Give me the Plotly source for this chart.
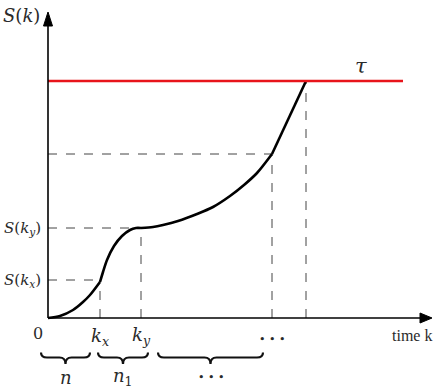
import plotly.graph_objects as go

# ---- data (arbitrary units) ----
# key instants on the time axis
k_marks = [5.2, 9.3, 22.4, 25.8]          # k_x, k_y, k_3, k_4
s_marks = [3.8, 9.0, 16.4, 23.7]          # S at those instants
tau = 23.7
tau_end = 35.5

# curve segments S(k)
seg1_k = [0.0, 1.2, 2.5, 3.5, 4.2, 5.2]
seg1_s = [0.0, 0.2, 0.8, 1.6, 2.3, 3.6]
seg2_k = [5.2, 5.5, 5.9, 6.6, 7.4, 8.2, 8.8, 9.3]
seg2_s = [3.6, 4.6, 5.8, 7.2, 8.2, 8.8, 9.0, 9.0]
seg3_k = [9.3, 10.5, 11.5, 13.0, 14.9, 16.5, 18.2, 19.6, 20.9, 22.4]
seg3_s = [9.0, 9.1, 9.3, 9.7, 10.4, 11.1, 12.2, 13.3, 14.5, 16.4]
seg4_k = [22.4, 25.8]
seg4_s = [16.4, 23.7]

# braces under the time axis
brace_start = [-0.7, 5.0, 11.0]
brace_end = [4.2, 10.0, 21.5]
brace_labels = ["<i>n</i>", "<i>n</i><sub>1</sub>", "• • •"]

x_axis_end = 38.4
y_axis_end = 30.6

MATH = "DejaVu Serif"
TXT = "#2a2a2a"

fig = go.Figure()

# curve
for ks, ss in [(seg1_k, seg1_s), (seg2_k, seg2_s), (seg3_k, seg3_s), (seg4_k, seg4_s)]:
    fig.add_trace(go.Scatter(x=ks, y=ss, mode="lines",
                             line=dict(color="black", width=2.6, shape="spline", smoothing=0.8),
                             hoverinfo="skip"))

# threshold tau
fig.add_trace(go.Scatter(x=[0, tau_end], y=[tau, tau], mode="lines",
                         line=dict(color="#e8141b", width=2.6), hoverinfo="skip"))

shapes = []
dash = dict(color="#444", width=1, dash="dash")
for i, (k, s) in enumerate(zip(k_marks, s_marks)):
    if i < 3:
        shapes.append(dict(type="line", x0=0, x1=k, y0=s, y1=s, line=dash, layer="below"))
    shapes.append(dict(type="line", x0=k, x1=k, y0=0, y1=s, line=dash, layer="below"))

# axes
axis_line = dict(color="black", width=1.6)
shapes.append(dict(type="line", x0=0, x1=x_axis_end - 0.8, y0=0, y1=0, line=axis_line))
shapes.append(dict(type="line", x0=0, x1=0, y0=0, y1=y_axis_end - 1.0, line=axis_line))
shapes.append(dict(type="path",
                   path=f"M {x_axis_end},0 L {x_axis_end-1.2},0.5 L {x_axis_end-1.2},-0.5 Z",
                   fillcolor="black", line=dict(color="black", width=1)))
shapes.append(dict(type="path",
                   path=f"M 0,{y_axis_end} L -0.45,{y_axis_end-1.4} L 0.45,{y_axis_end-1.4} Z",
                   fillcolor="black", line=dict(color="black", width=1)))

# braces
y_end, y_line, y_tip = -3.45, -3.95, -4.6
for a, b in zip(brace_start, brace_end):
    m = (a + b) / 2
    d = 0.6
    p = (f"M {a},{y_end} Q {a},{y_line} {a+d},{y_line} L {m-d},{y_line} "
         f"Q {m},{y_line} {m},{y_tip} Q {m},{y_line} {m+d},{y_line} "
         f"L {b-d},{y_line} Q {b},{y_line} {b},{y_end}")
    shapes.append(dict(type="path", path=p, line=dict(color="#111", width=2.2)))

annotations = []
def ann(x, y, text, size=15, xanchor="center", family=MATH):
    annotations.append(dict(x=x, y=y, text=text, showarrow=False, xanchor=xanchor,
                            yanchor="middle", font=dict(family=family, size=size, color=TXT)))

ann(-4.7, 30.3, "<i>S</i>(<i>k</i>)", size=18, xanchor="left")
ann(-2.6, s_marks[1], "<i>S</i>(<i>k<sub>y</sub></i>)", size=15)
ann(-2.6, s_marks[0], "<i>S</i>(<i>k<sub>x</sub></i>)", size=15)
ann(-1.0, -1.5, "0", size=16)
ann(k_marks[0], -1.9, "<i>k<sub>x</sub></i>", size=18)
ann(k_marks[1], -1.8, "<i>k<sub>y</sub></i>", size=18)
ann(k_marks[2], -2.1, "• • •", size=11)
ann(38.55, -1.7, "time k", size=16, xanchor="right", family="Liberation Serif")
ann(31.3, 25.2, "<i>τ</i>", size=21)
for a, b, lab in zip(brace_start, brace_end, brace_labels):
    ann((a + b) / 2, -5.9, lab, size=18 if lab != "• • •" else 11)

fig.update_layout(
    width=434, height=391, margin=dict(l=0, r=0, t=0, b=0),
    font=dict(family=MATH, size=15, color=TXT),
    paper_bgcolor="white", plot_bgcolor="white", showlegend=False,
    xaxis=dict(range=[-4.8, 38.6], visible=False, fixedrange=True),
    yaxis=dict(range=[-7.3, 31.8], visible=False, fixedrange=True),
    shapes=shapes, annotations=annotations,
)

fig.write_html("out.html", config={"displayModeBar": False})
